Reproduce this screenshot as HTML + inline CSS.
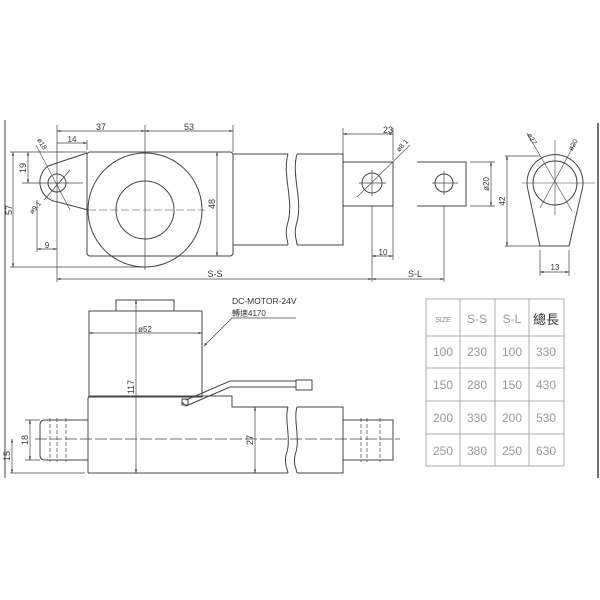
<!DOCTYPE html>
<html><head><meta charset="utf-8"><style>
html,body{margin:0;padding:0;background:#fff;width:600px;height:600px;overflow:hidden}
svg text{font-family:"Liberation Sans","Noto Sans CJK TC",sans-serif;fill:#333}
</style></head><body>
<svg width="600" height="600" viewBox="0 0 600 600" xmlns="http://www.w3.org/2000/svg">
<defs><marker id="a" viewBox="0 0 10 10" refX="10" refY="5" markerWidth="5" markerHeight="5" orient="auto-start-reverse"><path d="M0,2 L10,5 L0,8z" fill="#333"/></marker></defs>
<g stroke="#444" stroke-width="1" fill="none">
<line x1="5" y1="120" x2="5" y2="478"/>
<line x1="598" y1="123" x2="598" y2="478" stroke-width="1.5"/>
<rect x="87" y="152" width="146" height="104" rx="3"/>
<circle cx="145" cy="210" r="57"/>
<circle cx="145" cy="210" r="29"/>
<line x1="145" y1="125" x2="145" y2="270" stroke-width="0.7"/>
<line x1="88" y1="210" x2="205" y2="210" stroke-dasharray="8,3" stroke-width="0.6"/>
<path d="M233,154 H288 M233,245 H288"/>
<path d="M288,154 C282,175 294,200 288,222 C284,235 288,240 288,245"/>
<path d="M297,154 C291,175 303,200 297,222 C293,235 297,240 297,245"/>
<path d="M297,154 H343 V245 H297"/>
<path d="M48,166 A20,20 0 0 0 58,202 L88,210 M48,166 L87,153"/>
<circle cx="57" cy="183" r="9"/>
<line x1="40" y1="183" x2="83" y2="183" stroke-width="0.7"/>
<line x1="44" y1="200" x2="70" y2="170" stroke-width="0.7"/>
<line x1="36" y1="145" x2="70" y2="210" stroke-width="0.6"/>
<rect x="343" y="162" width="50" height="44"/>
<circle cx="372" cy="183" r="10"/>
<path d="M359,183 H386 M372,170 V196" stroke-width="0.7"/>
<line x1="357" y1="197" x2="410" y2="145" stroke-width="0.6"/>
<path d="M417,162 H466 V206 H417"/>
<circle cx="444" cy="183" r="9"/>
<path d="M432,183 H458 M444,171 V195" stroke-width="0.7"/>
<path d="M528,190 A28,28 0 1 1 582,190 L569,246 H540 Z"/>
<circle cx="555" cy="183" r="22"/>
<path d="M522,183 H595 M555,140 V215" stroke-width="0.6"/>
<line x1="527" y1="133" x2="572" y2="211" stroke-width="0.6"/>
<line x1="575" y1="143" x2="540" y2="208" stroke-width="0.6"/>
<g stroke-width="0.7">
<path d="M57,125 V282 M233,125 V152 M87,140 V150 M343,128 V160 M393,128 V160 M372,206 V282 M393,206 V260 M444,206 V282"/>
<path d="M10,152 H87 M22,183 H40 M10,267 H145 M37,200 V252 M470,162 H495 M470,206 H495 M505,156 H540 M505,246 H540 M540,250 V276 M569,250 V276"/>
<line x1="57" y1="131" x2="145" y2="131" marker-start="url(#a)" marker-end="url(#a)"/>
<line x1="145" y1="131" x2="233" y2="131" marker-start="url(#a)" marker-end="url(#a)"/>
<line x1="57" y1="143" x2="87" y2="143" marker-end="url(#a)"/>
<line x1="217" y1="152" x2="217" y2="256" marker-start="url(#a)" marker-end="url(#a)"/>
<line x1="28" y1="152" x2="28" y2="183" marker-start="url(#a)" marker-end="url(#a)"/>
<line x1="13" y1="152" x2="13" y2="267" marker-start="url(#a)" marker-end="url(#a)"/>
<line x1="37" y1="249" x2="57" y2="249" marker-start="url(#a)" marker-end="url(#a)"/>
<line x1="57" y1="279" x2="372" y2="279" marker-start="url(#a)" marker-end="url(#a)"/>
<line x1="372" y1="279" x2="444" y2="279" marker-start="url(#a)" marker-end="url(#a)"/>
<line x1="343" y1="134" x2="393" y2="134" marker-start="url(#a)" marker-end="url(#a)"/>
<line x1="372" y1="256" x2="393" y2="256" marker-start="url(#a)" marker-end="url(#a)"/>
<line x1="491" y1="162" x2="491" y2="206" marker-start="url(#a)" marker-end="url(#a)"/>
<line x1="507" y1="156" x2="507" y2="246" marker-start="url(#a)" marker-end="url(#a)"/>
<line x1="540" y1="272" x2="569" y2="272" marker-start="url(#a)" marker-end="url(#a)"/>
</g>
<rect x="116" y="300" width="58" height="11"/>
<rect x="89" y="311" width="113" height="86"/>
<path d="M88,473 V399 Q88,396 91,396 H232 V407 H288"/>
<path d="M88,473 H288"/>
<path d="M288,407 C284,420 292,440 286,455 C284,465 288,470 288,473"/>
<path d="M297,407 C293,420 301,440 295,455 C293,465 297,470 297,473"/>
<path d="M297,407 H343 V473 H297"/>
<path d="M88,420 H45 Q40,420 40,425 V455 Q40,460 45,460 H88"/>
<path d="M343,420 H393 V460 H343"/>
<g stroke-dasharray="4,2" stroke-width="0.7">
<path d="M50,418 V462 M57,418 V462 M66,418 V462 M361,418 V462 M367,418 V462 M380,418 V462"/>
<line x1="35" y1="439" x2="400" y2="439" stroke-dasharray="12,3"/>
</g>
<path d="M182,402 L186,406 L230,387 H296 M186,400 L230,381 H296"/>
<rect x="296" y="380" width="16" height="10"/>
<rect x="182" y="399" width="6" height="6"/>
<path d="M296,318 H232 L204,346" stroke-width="0.7" marker-end="url(#a)"/>
<g stroke-width="0.7">
<path d="M10,473 H85 M25,420 H40 M25,460 H40 M258,473 H288"/>
<line x1="89" y1="333" x2="202" y2="333" marker-start="url(#a)" marker-end="url(#a)"/>
<line x1="136" y1="300" x2="136" y2="473" marker-start="url(#a)" marker-end="url(#a)"/>
<line x1="255" y1="407" x2="255" y2="473" marker-start="url(#a)" marker-end="url(#a)"/>
<line x1="30" y1="420" x2="30" y2="460" marker-start="url(#a)" marker-end="url(#a)"/>
<line x1="12" y1="439" x2="12" y2="473" marker-start="url(#a)" marker-end="url(#a)"/>
</g>
<g stroke="#999" stroke-width="0.8">
<rect x="426" y="299" width="138" height="167"/>
<path d="M460,299 V466 M495,299 V466 M529,299 V466 M426,336 H564 M426,368 H564 M426,401 H564 M426,434 H564"/>
</g>
</g>
<g font-size="9" text-anchor="middle">
<text x="101" y="130">37</text><text x="189" y="130">53</text>
<text x="72" y="142" font-size="8">14</text>
<text x="388" y="133">23</text><text x="383" y="255" font-size="8">10</text>
<text x="215" y="277">S-S</text><text x="415" y="277">S-L</text>
<text x="47" y="248" font-size="8">9</text>
<text x="555" y="270" font-size="8">13</text>
<text transform="translate(26,168) rotate(-90)">19</text>
<text transform="translate(12,210) rotate(-90)">57</text>
<text transform="translate(215,204) rotate(-90)">48</text>
<text transform="translate(489,184) rotate(-90)" font-size="8">ø20</text>
<text transform="translate(505,201) rotate(-90)" font-size="8">42</text>
<text transform="translate(40,145) rotate(60)" font-size="7">ø18</text>
<text transform="translate(37,209) rotate(-50)" font-size="7">ø9.1</text>
<text transform="translate(404,147) rotate(-48)" font-size="7">ø8.1</text>
<text transform="translate(530,140) rotate(60)" font-size="7">ø27</text>
<text transform="translate(575,146) rotate(-60)" font-size="7">ø20</text>
<text x="145" y="332" font-size="8">ø52</text>
<text transform="translate(134,387) rotate(-90)">117</text>
<text transform="translate(253,440) rotate(-90)">27</text>
<text transform="translate(28,440) rotate(-90)">18</text>
<text transform="translate(10,456) rotate(-90)">15</text>
</g>
<text x="232" y="304" font-size="8.5" fill="#222">DC-MOTOR-24V</text>
<text x="232" y="316" font-size="8">轉速4170</text>
<g font-size="12" text-anchor="middle">
<text x="443" y="322" font-size="7" style="fill:#888">SIZE</text>
<text x="477" y="323" style="fill:#999">S-S</text><text x="512" y="323" style="fill:#999">S-L</text>
<text x="546" y="324" font-size="13" style="fill:#333">總長</text>
<text x="443" y="356" style="fill:#999">100</text><text x="477" y="356" style="fill:#999">230</text><text x="512" y="356" style="fill:#999">100</text><text x="546" y="356" style="fill:#999">330</text>
<text x="443" y="389" style="fill:#999">150</text><text x="477" y="389" style="fill:#999">280</text><text x="512" y="389" style="fill:#999">150</text><text x="546" y="389" style="fill:#999">430</text>
<text x="443" y="422" style="fill:#999">200</text><text x="477" y="422" style="fill:#999">330</text><text x="512" y="422" style="fill:#999">200</text><text x="546" y="422" style="fill:#999">530</text>
<text x="443" y="455" style="fill:#999">250</text><text x="477" y="455" style="fill:#999">380</text><text x="512" y="455" style="fill:#999">250</text><text x="546" y="455" style="fill:#999">630</text>
</g>
</svg>
</body></html>
